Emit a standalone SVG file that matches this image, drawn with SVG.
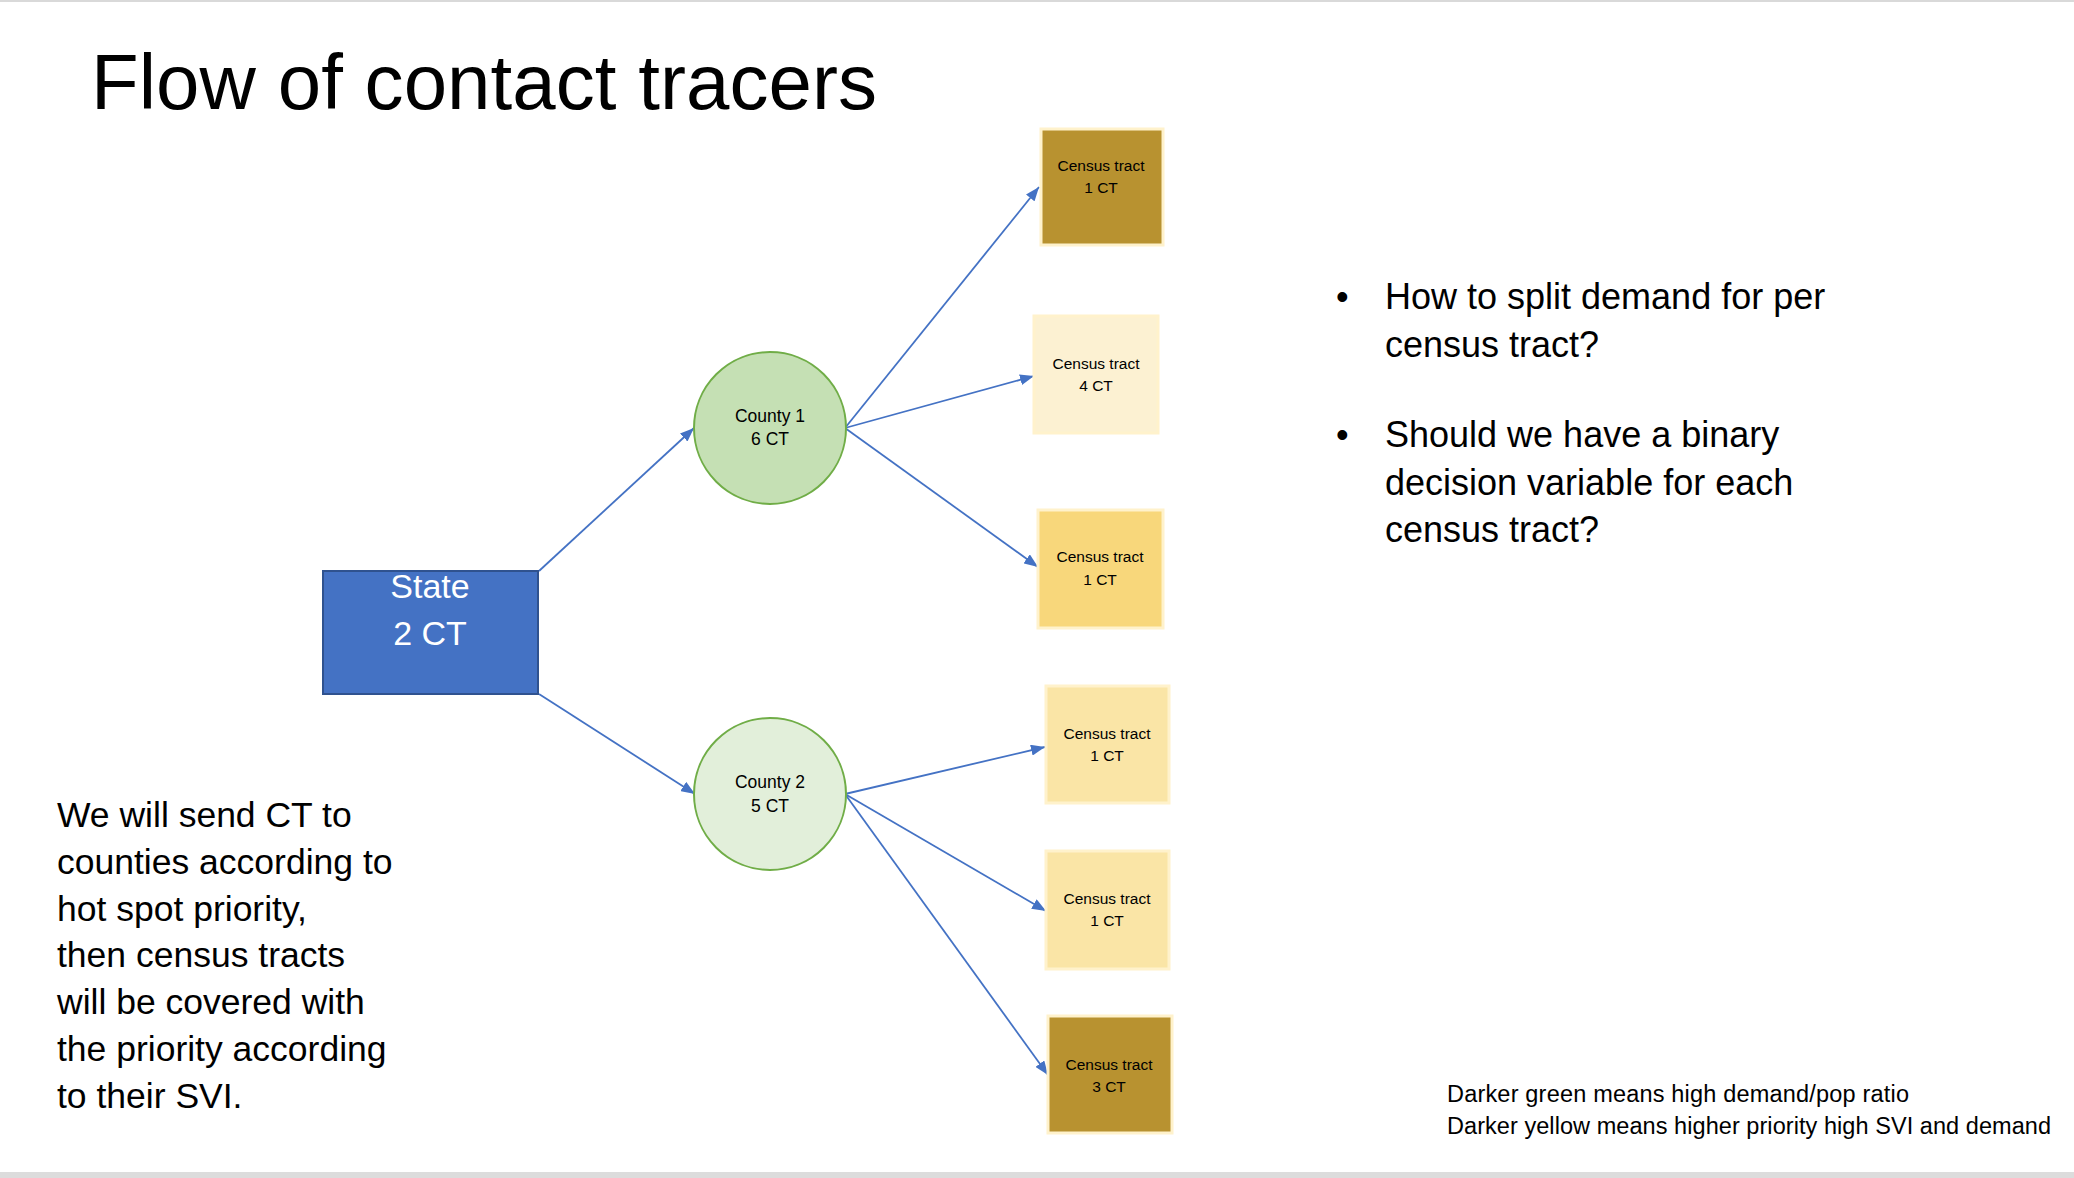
<svg xmlns="http://www.w3.org/2000/svg" width="2074" height="1178" viewBox="0 0 2074 1178">
  <defs>
    <marker id="arrow" markerUnits="userSpaceOnUse" markerWidth="15" markerHeight="11" refX="14" refY="5.5" orient="auto">
      <path d="M0,0 L14,5.5 L0,11 z" fill="#4472C4"/>
    </marker>
    <style>
      text { font-family: "Liberation Sans", Arial, sans-serif; fill: #000; }
      .title { font-size: 78px; }
      .body { font-size: 35.5px; }
      .bullets { font-size: 36px; }
      .legend { font-size: 23.5px; }
      .state-label { font-size: 34px; fill: #fff; text-anchor: middle; }
      .county-label { font-size: 17.5px; text-anchor: middle; }
      .tract-label { font-size: 15.5px; text-anchor: middle; }
      .county { stroke: #70AD47; stroke-width: 2; }
      .tract { stroke: #FFF2CC; stroke-width: 3; }
      .edge { stroke: #4472C4; stroke-width: 1.8; fill: none; marker-end: url(#arrow); }
    </style>
  </defs>

  <!-- slide background and frame bands -->
  <rect x="0" y="0" width="2074" height="1178" fill="#fff"/>
  <rect x="0" y="0" width="2074" height="2" fill="#D9D9D9"/>
  <rect x="0" y="1172" width="2074" height="6" fill="#DCDCDC"/>

  <text class="title" x="91" y="109" textLength="786">Flow of contact tracers</text>

  <!-- connectors -->
  <g id="connectors">
    <line class="edge" x1="539" y1="571" x2="694" y2="428"/>
    <line class="edge" x1="539" y1="694" x2="695" y2="794"/>
    <line class="edge" x1="845" y1="428" x2="1039" y2="187"/>
    <line class="edge" x1="845" y1="428" x2="1034" y2="376"/>
    <line class="edge" x1="845" y1="428" x2="1038" y2="567"/>
    <line class="edge" x1="845" y1="794" x2="1045" y2="747"/>
    <line class="edge" x1="845" y1="794" x2="1046" y2="911"/>
    <line class="edge" x1="845" y1="794" x2="1048" y2="1075"/>
  </g>

  <g id="state">
    <rect x="323" y="571" width="215" height="123" fill="#4472C4" stroke="#2F528F" stroke-width="2"/>
    <text class="state-label" x="430" y="598">State</text>
    <text class="state-label" x="430" y="645">2 CT</text>
  </g>

  <g id="county1">
    <circle class="county" cx="770" cy="428" r="76" fill="#C5E0B4"/>
    <text class="county-label" x="770" y="422">County 1</text>
    <text class="county-label" x="770" y="445">6 CT</text>
  </g>

  <g id="county2">
    <circle class="county" cx="770" cy="794" r="76" fill="#E2EFDA"/>
    <text class="county-label" x="770" y="788">County 2</text>
    <text class="county-label" x="770" y="812">5 CT</text>
  </g>

  <g id="tract-a">
    <rect class="tract" x="1041" y="129" width="122" height="116" fill="#B89230"/>
    <text class="tract-label" x="1101" y="171">Census tract</text>
    <text class="tract-label" x="1101" y="193">1 CT</text>
  </g>

  <g id="tract-b">
    <rect class="tract" x="1034" y="316" width="124" height="117" fill="#FCF1D2"/>
    <text class="tract-label" x="1096" y="369">Census tract</text>
    <text class="tract-label" x="1096" y="391">4 CT</text>
  </g>

  <g id="tract-c">
    <rect class="tract" x="1038" y="510" width="125" height="118" fill="#F8D77B"/>
    <text class="tract-label" x="1100" y="562">Census tract</text>
    <text class="tract-label" x="1100" y="585">1 CT</text>
  </g>

  <g id="tract-d">
    <rect class="tract" x="1046" y="686" width="123" height="117" fill="#FAE5A6"/>
    <text class="tract-label" x="1107" y="739">Census tract</text>
    <text class="tract-label" x="1107" y="761">1 CT</text>
  </g>

  <g id="tract-e">
    <rect class="tract" x="1046" y="851" width="123" height="118" fill="#FAE5A6"/>
    <text class="tract-label" x="1107" y="904">Census tract</text>
    <text class="tract-label" x="1107" y="926">1 CT</text>
  </g>

  <g id="tract-f">
    <rect class="tract" x="1048" y="1016" width="124" height="117" fill="#B89230"/>
    <text class="tract-label" x="1109" y="1070">Census tract</text>
    <text class="tract-label" x="1109" y="1092">3 CT</text>
  </g>

  <!-- questions -->
  <g id="questions" class="bullets">
    <text x="1336" y="309">•</text>
    <text x="1385" y="309">How to split demand for per</text>
    <text x="1385" y="357">census tract?</text>
    <text x="1336" y="447">•</text>
    <text x="1385" y="447">Should we have a binary</text>
    <text x="1385" y="495">decision variable for each</text>
    <text x="1385" y="542">census tract?</text>
  </g>

  <!-- explanation -->
  <g id="explanation" class="body">
    <text x="57" y="827">We will send CT to</text>
    <text x="57" y="874">counties according to</text>
    <text x="57" y="921">hot spot priority,</text>
    <text x="57" y="967">then census tracts</text>
    <text x="57" y="1014">will be covered with</text>
    <text x="57" y="1061">the priority according</text>
    <text x="57" y="1108">to their SVI.</text>
  </g>

  <!-- colour key -->
  <g id="legend" class="legend">
    <text x="1447" y="1102" textLength="462">Darker green means high demand/pop ratio</text>
    <text x="1447" y="1134" textLength="604">Darker yellow means higher priority high SVI and demand</text>
  </g>
</svg>
